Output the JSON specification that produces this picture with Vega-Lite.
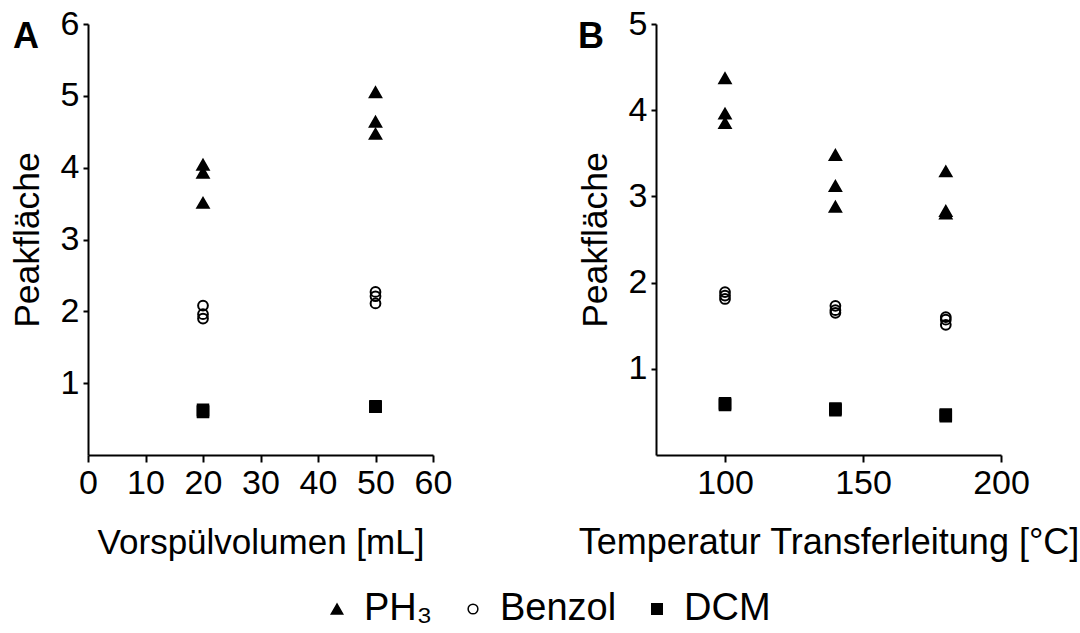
{
  "$schema": "https://vega.github.io/schema/vega-lite/v6.json",
  "background": "white",
  "padding": {"left": 10, "top": 7, "right": 0, "bottom": 0},
  "config": {
    "font": "Liberation Sans",
    "view": {"stroke": null},
    "axis": {
      "grid": false,
      "domainColor": "black",
      "domainWidth": 2,
      "tickColor": "black",
      "tickWidth": 2,
      "labelColor": "black",
      "labelFont": "Liberation Sans",
      "labelFontSize": 34,
      "labelFlush": false,
      "labelOverlap": false,
      "titleColor": "black",
      "titleFont": "Liberation Sans",
      "titleFontSize": 35.5,
      "titleFontWeight": "normal"
    },
    "axisX": {"tickSize": 7, "labelPadding": 4, "titlePadding": 25},
    "axisY": {"tickSize": 5, "labelPadding": 4, "titlePadding": 15},
    "legend": {
      "labelFont": "Liberation Sans",
      "labelFontSize": 38,
      "labelColor": "black",
      "labelOffset": 8,
      "columnPadding": 21,
      "symbolStrokeWidth": 1.5
    },
    "title": {"font": "Liberation Sans", "fontSize": 36, "fontWeight": "bold", "color": "black", "anchor": "start", "frame": "group"}
  },
  "datasets": {
    "vorspuelvolumen": [
      {"x": 20, "y": 4.04, "Substanz": "PH₃"},
      {"x": 20, "y": 3.93, "Substanz": "PH₃"},
      {"x": 20, "y": 3.51, "Substanz": "PH₃"},
      {"x": 50, "y": 5.05, "Substanz": "PH₃"},
      {"x": 50, "y": 4.64, "Substanz": "PH₃"},
      {"x": 50, "y": 4.47, "Substanz": "PH₃"},
      {"x": 20, "y": 2.08, "Substanz": "Benzol"},
      {"x": 20, "y": 1.96, "Substanz": "Benzol"},
      {"x": 20, "y": 1.9, "Substanz": "Benzol"},
      {"x": 50, "y": 2.27, "Substanz": "Benzol"},
      {"x": 50, "y": 2.21, "Substanz": "Benzol"},
      {"x": 50, "y": 2.11, "Substanz": "Benzol"},
      {"x": 20, "y": 0.63, "Substanz": "DCM"},
      {"x": 20, "y": 0.6, "Substanz": "DCM"},
      {"x": 20, "y": 0.61, "Substanz": "DCM"},
      {"x": 50, "y": 0.67, "Substanz": "DCM"},
      {"x": 50, "y": 0.68, "Substanz": "DCM"},
      {"x": 50, "y": 0.67, "Substanz": "DCM"}
    ],
    "temperatur": [
      {"x": 100, "y": 4.37, "Substanz": "PH₃"},
      {"x": 100, "y": 3.96, "Substanz": "PH₃"},
      {"x": 100, "y": 3.85, "Substanz": "PH₃"},
      {"x": 140, "y": 3.48, "Substanz": "PH₃"},
      {"x": 140, "y": 3.12, "Substanz": "PH₃"},
      {"x": 140, "y": 2.88, "Substanz": "PH₃"},
      {"x": 180, "y": 3.29, "Substanz": "PH₃"},
      {"x": 180, "y": 2.83, "Substanz": "PH₃"},
      {"x": 180, "y": 2.8, "Substanz": "PH₃"},
      {"x": 100, "y": 1.89, "Substanz": "Benzol"},
      {"x": 100, "y": 1.85, "Substanz": "Benzol"},
      {"x": 100, "y": 1.81, "Substanz": "Benzol"},
      {"x": 140, "y": 1.73, "Substanz": "Benzol"},
      {"x": 140, "y": 1.68, "Substanz": "Benzol"},
      {"x": 140, "y": 1.65, "Substanz": "Benzol"},
      {"x": 180, "y": 1.6, "Substanz": "Benzol"},
      {"x": 180, "y": 1.57, "Substanz": "Benzol"},
      {"x": 180, "y": 1.51, "Substanz": "Benzol"},
      {"x": 100, "y": 0.59, "Substanz": "DCM"},
      {"x": 100, "y": 0.58, "Substanz": "DCM"},
      {"x": 100, "y": 0.6, "Substanz": "DCM"},
      {"x": 140, "y": 0.52, "Substanz": "DCM"},
      {"x": 140, "y": 0.54, "Substanz": "DCM"},
      {"x": 140, "y": 0.53, "Substanz": "DCM"},
      {"x": 180, "y": 0.46, "Substanz": "DCM"},
      {"x": 180, "y": 0.47, "Substanz": "DCM"},
      {"x": 180, "y": 0.45, "Substanz": "DCM"}
    ]
  },
  "spacing": 125,
  "hconcat": [
    {
      "title": {"text": "A", "dx": -75, "dy": 53},
      "width": 345,
      "height": 431,
      "data": {"name": "vorspuelvolumen"},
      "mark": {"type": "point", "filled": true, "strokeWidth": 2, "opacity": 1},
      "encoding": {
        "x": {"field": "x", "type": "quantitative", "title": "Vorspülvolumen [mL]",
              "scale": {"domain": [0, 60], "nice": false},
              "axis": {"values": [0, 10, 20, 30, 40, 50, 60], "titleFontSize": 35}},
        "y": {"field": "y", "type": "quantitative", "title": "Peakfläche",
              "scale": {"domain": [0, 6], "nice": false},
              "axis": {"values": [1, 2, 3, 4, 5, 6]}},
        "shape": {"field": "Substanz", "type": "nominal", "title": null,
                  "scale": {"domain": ["PH₃", "Benzol", "DCM"], "range": ["triangle-up", "circle", "square"]},
                  "legend": {"orient": "none", "direction": "horizontal", "legendX": 230, "legendY": 566}},
        "fill": {"field": "Substanz", "type": "nominal", "title": null,
                 "scale": {"domain": ["PH₃", "Benzol", "DCM"], "range": ["black", "transparent", "black"]},
                 "legend": {"orient": "none", "direction": "horizontal", "legendX": 230, "legendY": 566}},
        "stroke": {"field": "Substanz", "type": "nominal", "title": null,
                   "scale": {"domain": ["PH₃", "Benzol", "DCM"], "range": ["black", "black", "black"]},
                   "legend": {"orient": "none", "direction": "horizontal", "legendX": 230, "legendY": 566}},
        "size": {"field": "Substanz", "type": "nominal", "title": null,
                 "scale": {"type": "ordinal", "domain": ["PH₃", "Benzol", "DCM"], "range": [130, 95, 110]},
                 "legend": {"orient": "none", "direction": "horizontal", "legendX": 230, "legendY": 566}}
      }
    },
    {
      "title": {"text": "B", "dx": -78, "dy": 53},
      "width": 345,
      "height": 431,
      "data": {"name": "temperatur"},
      "mark": {"type": "point", "filled": true, "strokeWidth": 2, "opacity": 1},
      "encoding": {
        "x": {"field": "x", "type": "quantitative", "title": "Temperatur Transferleitung [°C]",
              "scale": {"domain": [75, 200], "nice": false},
              "axis": {"values": [100, 150, 200], "titleFontSize": 36}},
        "y": {"field": "y", "type": "quantitative", "title": "Peakfläche",
              "scale": {"domain": [0, 5], "nice": false},
              "axis": {"values": [1, 2, 3, 4, 5]}},
        "shape": {"field": "Substanz", "type": "nominal", "title": null,
                  "scale": {"domain": ["PH₃", "Benzol", "DCM"], "range": ["triangle-up", "circle", "square"]},
                  "legend": {"orient": "none", "direction": "horizontal", "legendX": 230, "legendY": 566}},
        "fill": {"field": "Substanz", "type": "nominal", "title": null,
                 "scale": {"domain": ["PH₃", "Benzol", "DCM"], "range": ["black", "transparent", "black"]},
                 "legend": {"orient": "none", "direction": "horizontal", "legendX": 230, "legendY": 566}},
        "stroke": {"field": "Substanz", "type": "nominal", "title": null,
                   "scale": {"domain": ["PH₃", "Benzol", "DCM"], "range": ["black", "black", "black"]},
                   "legend": {"orient": "none", "direction": "horizontal", "legendX": 230, "legendY": 566}},
        "size": {"field": "Substanz", "type": "nominal", "title": null,
                 "scale": {"type": "ordinal", "domain": ["PH₃", "Benzol", "DCM"], "range": [130, 95, 110]},
                 "legend": {"orient": "none", "direction": "horizontal", "legendX": 230, "legendY": 566}}
      }
    }
  ],
  "resolve": {"scale": {"shape": "shared", "fill": "shared", "stroke": "shared", "size": "shared"}}
}
